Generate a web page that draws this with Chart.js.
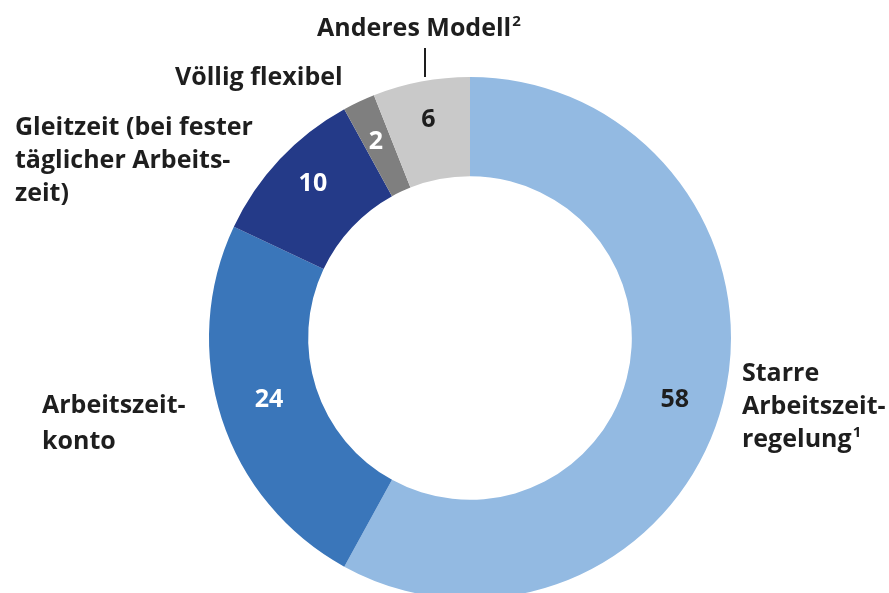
<!DOCTYPE html>
<html lang="de">
<head>
<meta charset="UTF-8">
<title>Arbeitszeitmodelle</title>
<script src="https://cdn.jsdelivr.net/npm/chart.js@4"></script>
<style>
  html, body { margin: 0; padding: 0; background: #fff; overflow: hidden; }
  #wrap { position: relative; width: 889px; height: 610px; }
</style>
</head>
<body>
<div id="wrap"><canvas id="chart" width="889" height="610"></canvas></div>
<script>
// Anteile in Prozent, im Uhrzeigersinn ab 12 Uhr
const categories = ['Starre Arbeitszeitregelung', 'Arbeitszeitkonto', 'Gleitzeit', 'Völlig flexibel', 'Anderes Modell'];
const values = [58, 24, 10, 2, 6];
const colors = ['#93bae2', '#3a76ba', '#243a88', '#7f7f7f', '#c9c9c9'];
const valueColors = ['#1e1e1e', '#ffffff', '#ffffff', '#ffffff', '#1e1e1e'];

const FONT = '"Open Sans", Lato, sans-serif';
// kleine Verschiebungen der Zahlen (x, y), wie im Original gesetzt
const nudge = [[0, 9], [0, -3], [-3, -9], [-4, -5], [-2, -10]];

// Zahlen in den Segmenten
const valueLabels = {
    id: 'valueLabels',
    afterDatasetsDraw(chart) {
        const ctx = chart.ctx;
        const meta = chart.getDatasetMeta(0);
        ctx.save();
        ctx.font = 'bold 25px ' + FONT;
        ctx.textAlign = 'center';
        ctx.textBaseline = 'middle';
        meta.data.forEach((arc, i) => {
            const p = arc.tooltipPosition();
            ctx.fillStyle = valueColors[i];
            ctx.fillText(String(values[i]), p.x + nudge[i][0], p.y + nudge[i][1]);
        });
        ctx.restore();
    }
};

// Beschriftungen außen
function drawLines(ctx, lines, x, y, lh, sup) {
    lines.forEach((t, i) => ctx.fillText(t, x, y + i * lh));
    if (sup) {
        const last = lines[lines.length - 1];
        const w = ctx.measureText(last).width;
        const f = ctx.font;
        ctx.font = 'bold 15px ' + FONT;
        ctx.fillText(sup, x + w + 1, y + (lines.length - 1) * lh - 10);
        ctx.font = f;
    }
}

const outerLabels = {
    id: 'outerLabels',
    afterDraw(chart) {
        const ctx = chart.ctx;
        ctx.save();
        ctx.fillStyle = '#1e1e1e';
        ctx.font = 'bold 25px ' + FONT;
        ctx.textAlign = 'left';
        ctx.textBaseline = 'alphabetic';
        drawLines(ctx, ['Anderes Modell'], 317, 36, 0, '2');
        drawLines(ctx, ['Völlig flexibel'], 175, 85, 0);
        drawLines(ctx, ['Gleitzeit (bei fester', 'täglicher Arbeits-', 'zeit)'], 15, 135, 33);
        drawLines(ctx, ['Arbeitszeit-', 'konto'], 42, 413, 36);
        drawLines(ctx, ['Starre', 'Arbeitszeit-', 'regelung'], 742, 381, 33, '1');
        // Hinweislinie zu "Anderes Modell"
        ctx.strokeStyle = '#1e1e1e';
        ctx.lineWidth = 2;
        ctx.beginPath();
        ctx.moveTo(425, 48);
        ctx.lineTo(425, 77);
        ctx.stroke();
        ctx.restore();
    }
};

new Chart(document.getElementById('chart'), {
    type: 'doughnut',
    data: {
        labels: categories,
        datasets: [{
            data: values,
            backgroundColor: colors,
            borderWidth: 0
        }]
    },
    options: {
        responsive: false,
        animation: false,
        cutout: '62%',
        layout: { padding: { left: 209, right: 158, top: 77, bottom: 11 } },
        plugins: {
            legend: { display: false },
            tooltip: { enabled: false }
        }
    },
    plugins: [valueLabels, outerLabels]
});
</script>
</body>
</html>
